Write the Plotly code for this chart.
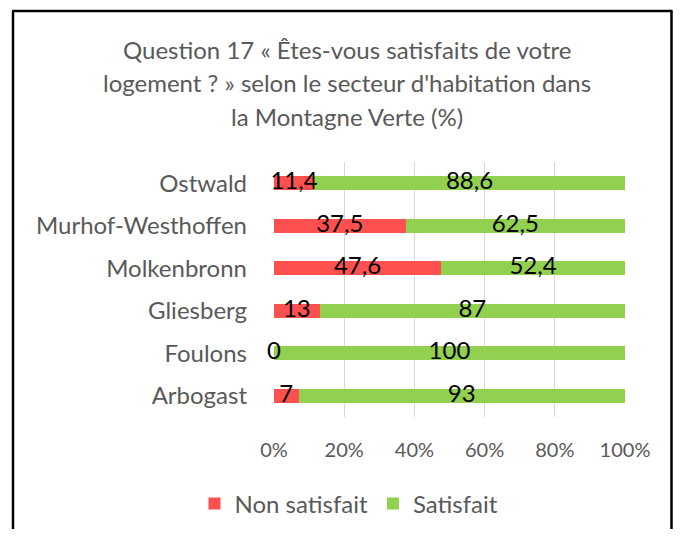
import plotly.graph_objects as go

categories = ["Arbogast", "Foulons", "Gliesberg", "Molkenbronn", "Murhof-Westhoffen", "Ostwald"]
non_satisfait = [7, 0, 13, 47.6, 37.5, 11.4]
satisfait = [93, 100, 87, 52.4, 62.5, 88.6]
x_ticks = [0, 20, 40, 60, 80, 100]
x_tick_labels = ["0%", "20%", "40%", "60%", "80%", "100%"]
title_lines = ["Question 17 « Êtes-vous satisfaits de votre",
               "logement ? » selon le secteur d'habitation dans",
               "la Montagne Verte (%)"]

FONT = "Lato"
GRAY = "#595959"
RED = "#FF5050"
GREEN = "#92D050"


def fmt(v):
    return ("%g" % v).replace(".", ",")


# page body has an 8px margin: work in figure coordinates (reference minus 8)
W, H = 665, 521
L, R, T, B = 266, 48, 154, 112
pw, ph = W - L - R, H - T - B

fig = go.Figure()
fig.add_trace(go.Bar(y=categories, x=non_satisfait, orientation="h", name="Non satisfait",
                     marker=dict(color=RED, line=dict(width=0)), width=0.33))
fig.add_trace(go.Bar(y=categories, x=satisfait, orientation="h", name="Satisfait",
                     marker=dict(color=GREEN, line=dict(width=0)), width=0.33))

# data labels
fig.add_trace(go.Scatter(y=categories, x=[v / 2 for v in non_satisfait], mode="text",
                         text=[fmt(v) for v in non_satisfait], showlegend=False, cliponaxis=False,
                         textposition="middle center",
                         textfont=dict(family=FONT, size=24, color="black"), hoverinfo="skip"))
fig.add_trace(go.Scatter(y=categories, x=[n + s / 2 for n, s in zip(non_satisfait, satisfait)],
                         mode="text", text=[fmt(v) for v in satisfait], showlegend=False,
                         cliponaxis=False, textposition="middle center",
                         textfont=dict(family=FONT, size=24, color="black"), hoverinfo="skip"))


def px(x):
    return (x - L) / pw


def py(y):
    return (H - B - y) / ph


shapes = [
    dict(type="line", xref="paper", yref="paper", x0=px(5), x1=px(5), y0=py(3), y1=py(540),
         line=dict(color="black", width=2.5)),
    dict(type="line", xref="paper", yref="paper", x0=px(4), x1=px(664.5), y0=py(3), y1=py(3),
         line=dict(color="black", width=2.5)),
    dict(type="line", xref="paper", yref="paper", x0=px(663.5), x1=px(663.5), y0=py(3), y1=py(540),
         line=dict(color="black", width=2.5)),
]

annotations = []
for i, line in enumerate(title_lines):
    annotations.append(dict(text=line, xref="paper", yref="paper", x=px(338.5), y=py(41 + i * 33.5),
                            xanchor="center", yanchor="middle", showarrow=False,
                            font=dict(family=FONT, size=24, color=GRAY)))

fig.update_layout(
    width=W, height=H, barmode="stack",
    margin=dict(l=L, r=R, t=T, b=B, autoexpand=False),
    paper_bgcolor="white", plot_bgcolor="white",
    shapes=shapes, annotations=annotations,
    showlegend=True,
    legend=dict(orientation="h", x=px(341), xanchor="center", y=py(496), yanchor="middle",
                font=dict(family=FONT, size=24, color=GRAY), itemwidth=30, traceorder="normal"),
    xaxis=dict(range=[0, 100], tickvals=x_ticks, ticktext=x_tick_labels, showgrid=True,
               gridcolor="#D9D9D9", gridwidth=1.3, zeroline=False,
               tickfont=dict(family=FONT, size=20, color=GRAY), ticklabelstandoff=19,
               fixedrange=True),
    yaxis=dict(range=[-0.5, 5.5], showgrid=False, zeroline=False,
               tickfont=dict(family=FONT, size=24, color=GRAY), ticklabelstandoff=26,
               fixedrange=True),
)

fig.write_html("out.html")
